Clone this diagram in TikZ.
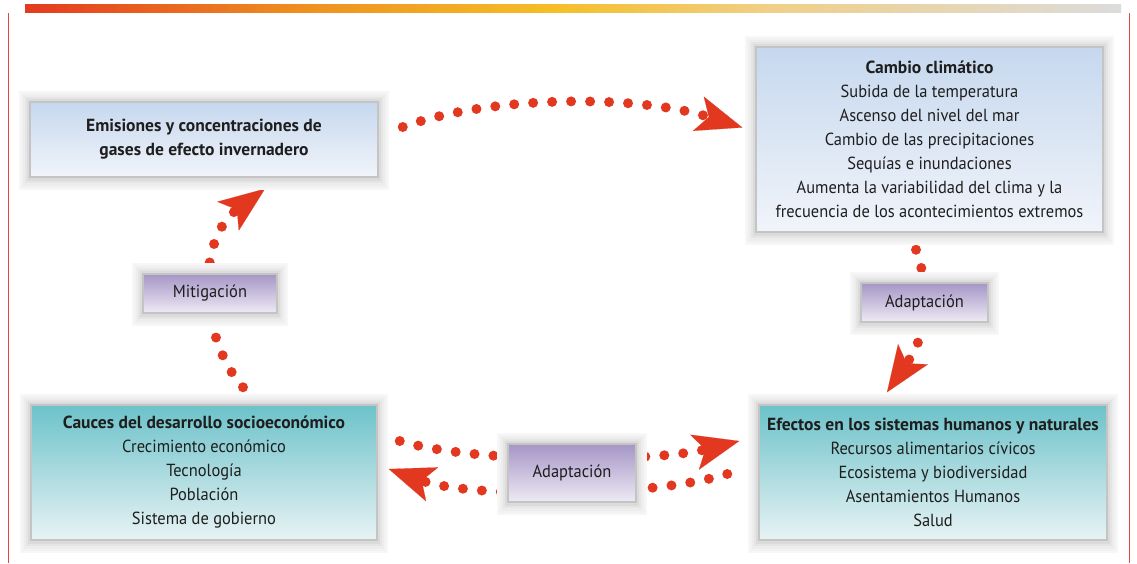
\documentclass[tikz,border=0pt]{standalone}
\usepackage{fontspec}
\setmainfont{PT Sans}[UprightFeatures={FakeStretch=0.94}]
\usetikzlibrary{arrows.meta}
\definecolor{dotred}{HTML}{E2381F}
\definecolor{sidered}{HTML}{E8453C}
\definecolor{textcol}{HTML}{1E1E1E}
\definecolor{bordergray}{HTML}{C4C4C4}
\definecolor{blueTop}{HTML}{C6D8EE}
\definecolor{blueBot}{HTML}{F1F4FA}
\definecolor{tealTop}{HTML}{6CC2CA}
\definecolor{tealBot}{HTML}{E8F3F4}
\definecolor{purTop}{HTML}{A596C6}
\definecolor{purBot}{HTML}{EEEAF4}
\definecolor{barA}{HTML}{E43A1F}
\definecolor{barB}{HTML}{EE8F20}
\definecolor{barC}{HTML}{F5BE27}
\definecolor{barD}{HTML}{F0CF88}
\definecolor{barE}{HTML}{DCDCDC}
\pgfdeclarehorizontalshading{barshade}{100bp}{color(0bp)=(barA); color(25bp)=(barA); color(37.5bp)=(barB); color(49bp)=(barC); color(59bp)=(barD); color(75bp)=(barE); color(100bp)=(barE)}
\pgfdeclarelayer{whitelayer}
\pgfdeclarelayer{dotlayer}
\pgfdeclarelayer{shadowlayer}
\pgfsetlayers{whitelayer,dotlayer,shadowlayer,main}
\tikzset{
  txt/.style={font=\fontsize{17.5}{24}\selectfont, text=textcol, align=center, inner sep=0pt},
  bluebox/.style={txt, draw=bordergray, line width=1.5pt, top color=blueTop, bottom color=blueBot},
  tealbox/.style={txt, draw=bordergray, line width=1.5pt, top color=tealTop, bottom color=tealBot},
  labelbox/.style={txt, draw=bordergray, line width=1.5pt, top color=purTop, bottom color=purBot},
  dotpath/.style={draw=dotred, line width=10pt, line cap=round, dash pattern=on 0pt off 19pt,
    -{Stealth[length=46pt, width=36pt, inset=11pt, line width=0.1pt, fill=dotred, color=dotred]}}
}
\begin{document}
\begin{tikzpicture}[x=1pt,y=-1pt]
\useasboundingbox (0,0) rectangle (1137,563);
\begin{pgfonlayer}{whitelayer}
\fill[white] (0,0) rectangle (1137,563);
\end{pgfonlayer}
\shade[shading=barshade] (25,4) rectangle (1121,12);
\draw[sidered, line width=1pt] (8,13) -- (8,563);
\draw[sidered, line width=1pt] (1129,13) -- (1129,563);

\node[bluebox, minimum width=348pt, minimum height=75pt] (emis) at (204,139.5)
  {\textbf{Emisiones y concentraciones de}\\\textbf{gases de efecto invernadero}};
\node[bluebox, minimum width=347pt, minimum height=185pt] (cambio) at (929.5,139.5)
  {\textbf{Cambio climático}\\Subida de la temperatura\\Ascenso del nivel del mar\\Cambio de las precipitaciones\\Sequías e inundaciones\\Aumenta la variabilidad del clima y la\\frecuencia de los acontecimientos extremos};
\node[tealbox, minimum width=346pt, minimum height=135pt] (cauces) at (204,472.5)
  {\textbf{Cauces del desarrollo socioeconómico}\\Crecimiento económico\\Tecnología\\Población\\Sistema de gobierno};
\node[tealbox, minimum width=348pt, minimum height=135pt] (efectos) at (933,472.5)
  {\textbf{Efectos en los sistemas humanos y naturales}\\Recursos alimentarios cívicos\\Ecosistema y biodiversidad\\Asentamientos Humanos\\Salud};
\node[labelbox, minimum width=134pt, minimum height=39pt] (mitig) at (210,293.5) {Mitigación};
\node[labelbox, minimum width=127pt, minimum height=39pt] (adaptA) at (924.5,302.5) {Adaptación};
\node[labelbox, minimum width=128pt, minimum height=58pt] (adaptB) at (572,473) {Adaptación};

\begin{pgfonlayer}{shadowlayer}
\foreach \n in {emis,cambio,cauces,efectos,mitig,adaptA,adaptB}{
  \foreach \d/\b/\k in {10/12/3, 8/10/5, 6/8/7, 4/5/10, 2/3/14}{
    \fill[black!\k] ([shift={(-\d,-\d)}]\n.north west) rectangle ([shift={(\d,\b)}]\n.south east);
  }
}
\end{pgfonlayer}

\begin{pgfonlayer}{dotlayer}
\draw[dotpath] ([shift={(24,-12.5)}]emis.east) .. controls +(88,-32) and +(-105,-33) .. ([shift={(-13,-12)}]cambio.west);
\draw[dotpath] ([shift={(-13.5,17)}]cambio.south) .. controls +(14,41) and +(43,-63) .. ([shift={(-46,-12)}]efectos.north);
\draw[dotpath] ([shift={(39,-17)}]cauces.north) .. controls +(-43,-48) and +(-70,52) .. ([shift={(61,11)}]emis.south);
\draw[dotpath] ([shift={(22,-31.5)}]cauces.east) .. controls +(81,24) and +(-80,20) .. ([shift={(-19,-31.5)}]efectos.west);
\draw[dotpath] ([shift={(-31,1.5)}]efectos.west) .. controls +(-78,24) and +(82,29) .. ([shift={(11,-3.5)}]cauces.east);
\end{pgfonlayer}
\end{tikzpicture}
\end{document}
